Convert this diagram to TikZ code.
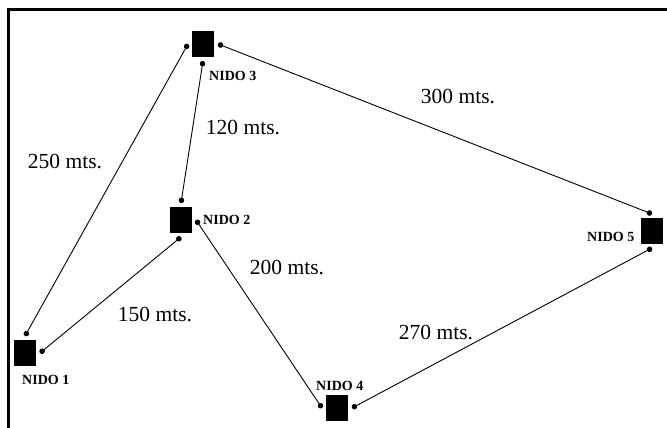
\documentclass[tikz,border=0pt]{standalone}
\usepackage{fontspec}
\setmainfont{Liberation Serif}
\usetikzlibrary{arrows.meta}
\begin{document}
\begin{tikzpicture}[x=1pt,y=-1pt,
  nest/.style={fill=black,minimum width=22pt,minimum height=26pt,inner sep=0pt,outer sep=4pt},
  nestlabel/.style={font=\fontsize{14}{16}\selectfont\bfseries,inner sep=0pt},
  dist/.style={font=\fontsize{21.5}{24}\selectfont,inner sep=0pt},
  link/.style={line width=0.9pt,{Circle[length=5.5pt]}-{Circle[length=5.5pt]}},
  frame/.style={line width=3pt}]
\useasboundingbox (0,0) rectangle (667,428);
\draw[frame] (8,10) -- (668,10);
\draw[frame] (8,8.5) -- (8,429);
% nests
\node[nest] (n1) at (25,353) {};
\node[nest] (n2) at (181,220) {};
\node[nest] (n3) at (203,44) {};
\node[nest] (n4) at (337,408) {};
\node[nest] (n5) at (652,231) {};
% nest labels
\node[nestlabel,anchor=west] (l3) at (209,76) {NIDO 3};
\node[nestlabel,anchor=west] (l2) at (203,220) {NIDO 2};
\node[nestlabel,anchor=west] (l1) at (22,380) {NIDO 1};
\node[nestlabel,anchor=west] (l4) at (316,386) {NIDO 4};
\node[nestlabel,anchor=west] (l5) at (587,237) {NIDO 5};
% links
\draw[link] (n1.north) -- (n3.west);
\draw[link] (n1.east) -- (n2.south);
\draw[link] (n2.north) -- (n3.south);
\draw[link] (n2.east) -- (n4.west);
\draw[link] (n3.east) -- (n5.north);
\draw[link] (n4.east) -- (n5.south);
% distances
\node[dist] (d250) at (65,162) {250 mts.};
\node[dist] (d120) at (243,128) {120 mts.};
\node[dist] (d300) at (458,97) {300 mts.};
\node[dist] (d200) at (287,268) {200 mts.};
\node[dist] (d150) at (155,315) {150 mts.};
\node[dist] (d270) at (436,333) {270 mts.};
\end{tikzpicture}
\end{document}
